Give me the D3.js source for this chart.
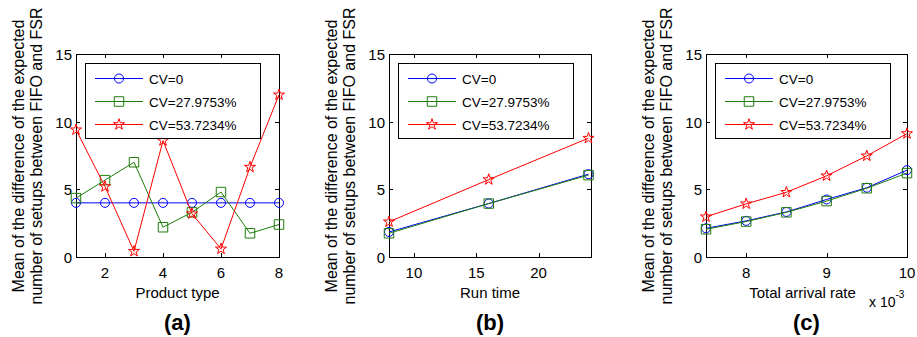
<!DOCTYPE html>
<html><head><meta charset="utf-8">
<script src="https://cdn.jsdelivr.net/npm/d3@7"></script>
<style>
html,body{margin:0;padding:0;background:#fff;}
svg{display:block;font-family:"Liberation Sans",Arial,Helvetica,sans-serif;}
</style></head>
<body><svg id="chart" width="917" height="337"></svg>
<script>
// ---- data ----
const seriesNames = ["CV=0", "CV=27.9753%", "CV=53.7234%"];
const yTicks = [0, 5, 10, 15];

const productType = [1, 2, 3, 4, 5, 6, 7, 8];
const aCV0  = [4.0, 4.0, 4.0, 4.0, 4.0, 4.0, 4.0, 4.0];
const aCV28 = [4.35, 5.68, 7.0, 2.2, 3.3, 4.8, 1.75, 2.4];
const aCV54 = [9.4, 5.2, 0.42, 8.6, 3.2, 0.6, 6.64, 11.98];
const aXTicks = [2, 4, 6, 8];

const runTime = [8, 16, 24];
const bCV0  = [1.85, 3.95, 6.12];
const bCV28 = [1.75, 3.95, 6.05];
const bCV54 = [2.6, 5.72, 8.78];
const bXTicks = [10, 15, 20];

const arrivalRate = [0.0075, 0.008, 0.0085, 0.009, 0.0095, 0.010];
const cCV0  = [2.12, 2.67, 3.33, 4.25, 5.12, 6.42];
const cCV28 = [2.05, 2.62, 3.3, 4.13, 5.08, 6.2];
const cCV54 = [2.97, 3.93, 4.78, 6.0, 7.47, 9.12];
const cXTicks = [0.008, 0.009, 0.010];

// ---- layout ----
const svg = d3.select("#chart");
const plotTop = 54, plotBottom = 257;
const colors = ["#0000ff", "#1e7d0a", "#ff0000"];
const symbols = [d3.symbolCircle, d3.symbolSquare, d3.symbolStar];
const symSizes = [64, 90, 38];

const panels = [
  {left: 76, right: 279, xs: productType, ys: [aCV0, aCV28, aCV54], dom: [1, 8], ticks: aXTicks,
   fmt: d => d, xlabel: "Product type", tag: "(a)", xlabShift: 0},
  {left: 389, right: 591, xs: runTime, ys: [bCV0, bCV28, bCV54], dom: [8, 24.2], ticks: bXTicks,
   fmt: d => d, xlabel: "Run time", tag: "(b)", xlabShift: 0},
  {left: 706, right: 907, xs: arrivalRate, ys: [cCV0, cCV28, cCV54], dom: [0.0075, 0.010], ticks: cXTicks,
   fmt: d => Math.round(d * 1000), xlabel: "Total arrival rate", tag: "(c)", xlabShift: -4, exp: true}
];

const y = d3.scaleLinear().domain([0, 15]).range([plotBottom, plotTop]);

panels.forEach(p => {
  const x = d3.scaleLinear().domain(p.dom).range([p.left, p.right]);
  const g = svg.append("g");
  const tl = 4;

  // frame
  g.append("rect").attr("x", p.left + 0.5).attr("y", plotTop + 0.5)
    .attr("width", p.right - p.left).attr("height", plotBottom - plotTop)
    .attr("fill", "none").attr("stroke", "#000").attr("stroke-width", 1);

  // x ticks (inward, bottom & top)
  p.ticks.forEach(t => {
    const xx = Math.round(x(t)) + 0.5;
    g.append("line").attr("x1", xx).attr("x2", xx).attr("y1", plotBottom).attr("y2", plotBottom - tl).attr("stroke", "#000");
    g.append("line").attr("x1", xx).attr("x2", xx).attr("y1", plotTop).attr("y2", plotTop + tl).attr("stroke", "#000");
    g.append("text").attr("x", x(t)).attr("y", plotBottom + 20.5).attr("text-anchor", "middle")
      .attr("font-size", 15).text(p.fmt(t));
  });
  // y ticks
  yTicks.forEach(t => {
    const yy = Math.round(y(t)) + 0.5;
    g.append("line").attr("x1", p.left).attr("x2", p.left + tl).attr("y1", yy).attr("y2", yy).attr("stroke", "#000");
    g.append("line").attr("x1", p.right).attr("x2", p.right - tl).attr("y1", yy).attr("y2", yy).attr("stroke", "#000");
    g.append("text").attr("x", p.left - 4).attr("y", y(t) + 6).attr("text-anchor", "end")
      .attr("font-size", 15).text(t);
  });

  // series
  p.ys.forEach((vals, i) => {
    const pts = p.xs.map((xv, j) => [x(xv), y(vals[j])]);
    g.append("path").attr("d", d3.line()(pts)).attr("fill", "none")
      .attr("stroke", colors[i]).attr("stroke-width", 1);
    g.selectAll(null).data(pts).enter().append("path")
      .attr("d", d3.symbol().type(symbols[i]).size(symSizes[i]))
      .attr("transform", d => `translate(${d[0]},${d[1]})`)
      .attr("fill", "none").attr("stroke", colors[i]).attr("stroke-width", 1);
  });

  // legend
  const lx = p.left + 9, ly = 63, lw = 175, lh = 75;
  g.append("rect").attr("x", lx + 0.5).attr("y", ly + 0.5).attr("width", lw).attr("height", lh)
    .attr("fill", "#fff").attr("stroke", "#000").attr("stroke-width", 1);
  seriesNames.forEach((name, i) => {
    const ry = 78.5 + i * 23;
    g.append("line").attr("x1", lx + 10).attr("x2", lx + 58).attr("y1", ry).attr("y2", ry)
      .attr("stroke", colors[i]).attr("stroke-width", 1);
    g.append("path").attr("d", d3.symbol().type(symbols[i]).size(symSizes[i]))
      .attr("transform", `translate(${lx + 34},${ry})`)
      .attr("fill", "none").attr("stroke", colors[i]).attr("stroke-width", 1);
    g.append("text").attr("x", lx + 64).attr("y", ry + 5).attr("font-size", 13.5).text(name);
  });

  // x label
  const cx = (p.left + p.right) / 2;
  g.append("text").attr("x", cx + p.xlabShift).attr("y", 298).attr("text-anchor", "middle")
    .attr("font-size", 15).text(p.xlabel);
  if (p.exp) {
    const t = g.append("text").attr("x", p.right - 38).attr("y", 307).attr("font-size", 14);
    t.append("tspan").text("x 10");
    t.append("tspan").attr("dy", -9).attr("font-size", 10).text("-3");
  }
  // panel tag
  g.append("text").attr("x", cx).attr("y", 330).attr("text-anchor", "middle")
    .attr("font-size", 22).attr("font-weight", "bold").text(p.tag);

  // y label (two lines)
  const yc = (plotTop + plotBottom) / 2 + 0.5;
  const ylab = g.append("text").attr("transform", `translate(${p.left - 52},${yc}) rotate(-90)`)
    .attr("text-anchor", "middle").attr("font-size", 16);
  ylab.append("tspan").attr("x", 0).attr("y", 0).text("Mean of the difference of the expected");
  ylab.append("tspan").attr("x", 0).attr("y", 17.5).text("number of setups between FIFO and FSR");
});
</script></body></html>
